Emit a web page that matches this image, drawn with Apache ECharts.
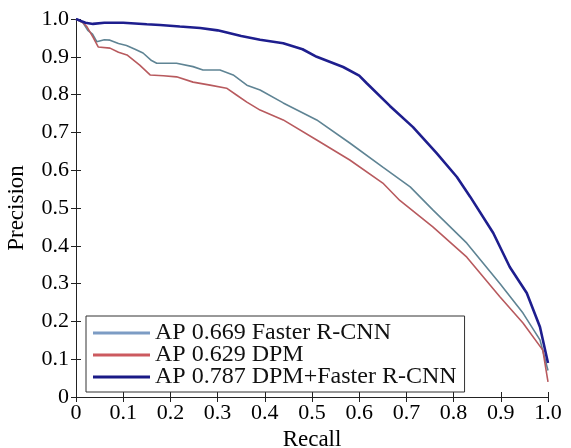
<!DOCTYPE html>
<html>
<head>
<meta charset="utf-8">
<script src="https://cdn.jsdelivr.net/npm/echarts@6/dist/echarts.min.js"></script>
<style>
  html, body { margin: 0; padding: 0; background: #fff; }
  #chart { width: 571px; height: 448px; }
</style>
</head>
<body>
<div id="chart"></div>
<script>
// tick labels
var tickLabels = ['0', '0.1', '0.2', '0.3', '0.4', '0.5', '0.6', '0.7', '0.8', '0.9', '1.0'];

// [recall, precision]
var fasterRcnn = [
  [0, 1.0], [0.015, 0.99], [0.025, 0.97], [0.035, 0.96], [0.044, 0.94], [0.06, 0.945],
  [0.072, 0.944], [0.09, 0.935], [0.107, 0.93], [0.125, 0.92], [0.142, 0.91], [0.16, 0.89],
  [0.171, 0.883], [0.213, 0.883], [0.248, 0.874], [0.269, 0.865], [0.305, 0.865], [0.333, 0.852],
  [0.362, 0.825], [0.39, 0.812], [0.439, 0.778], [0.51, 0.733], [0.58, 0.672], [0.65, 0.608],
  [0.708, 0.556], [0.756, 0.495], [0.828, 0.407], [0.898, 0.30], [0.947, 0.222], [0.983, 0.151],
  [1.0, 0.07]
];
var dpm = [
  [0, 1.0], [0.015, 0.99], [0.023, 0.98], [0.036, 0.952], [0.047, 0.926], [0.072, 0.923],
  [0.09, 0.912], [0.108, 0.905], [0.135, 0.878], [0.157, 0.852], [0.185, 0.85], [0.213, 0.847],
  [0.248, 0.833], [0.284, 0.825], [0.319, 0.817], [0.34, 0.799], [0.362, 0.78], [0.39, 0.759],
  [0.439, 0.733], [0.51, 0.68], [0.58, 0.627], [0.65, 0.566], [0.686, 0.52], [0.756, 0.45],
  [0.828, 0.37], [0.898, 0.265], [0.947, 0.196], [0.989, 0.124], [1.0, 0.04]
];
var dpmFaster = [
  [0, 1.0], [0.01, 0.995], [0.02, 0.99], [0.036, 0.987], [0.06, 0.99], [0.1, 0.99],
  [0.15, 0.986], [0.178, 0.984], [0.22, 0.98], [0.263, 0.976], [0.3, 0.97], [0.35, 0.955],
  [0.39, 0.945], [0.439, 0.936], [0.48, 0.92], [0.51, 0.90], [0.566, 0.873], [0.6, 0.85],
  [0.616, 0.83], [0.665, 0.77], [0.714, 0.714], [0.764, 0.645], [0.807, 0.582], [0.835, 0.53],
  [0.884, 0.434], [0.919, 0.344], [0.955, 0.275], [0.983, 0.185], [1.0, 0.09]
];

var chart = echarts.init(document.getElementById('chart'));
var fontFam = '"Liberation Serif", "DejaVu Serif", serif';
var lineCol = '#222';

function labelFmt(v) {
  return tickLabels[Math.round(v * 10)];
}

var option = {
  backgroundColor: '#fff',
  animation: false,
  textStyle: { fontFamily: fontFam, color: '#000' },
  grid: { left: 76, right: 23, top: 19, bottom: 51, show: false, containLabel: false, outerBoundsMode: 'none' },
  legend: {
    orient: 'vertical',
    left: 86,
    top: 316,
    padding: [5, 8, 3, 7],
    itemGap: -2,
    itemWidth: 57,
    itemHeight: 3,
    borderColor: '#333',
    borderWidth: 1,
    backgroundColor: '#fff',
    icon: 'rect',
    textStyle: { fontFamily: fontFam, fontSize: 24, color: '#111', lineHeight: 22 },
    data: [
      { name: 'AP 0.669 Faster R-CNN', itemStyle: { color: '#7c9cc4' } },
      { name: 'AP 0.629 DPM', itemStyle: { color: '#cc5a5f' } },
      { name: 'AP 0.787 DPM+Faster R-CNN', itemStyle: { color: '#1a1a86' } }
    ]
  },
  xAxis: [{
    type: 'value', min: 0, max: 1, interval: 0.1,
    name: 'Recall', nameLocation: 'middle', nameGap: 29,
    nameTextStyle: { fontFamily: fontFam, fontSize: 23, color: '#000' },
    axisLine: { lineStyle: { color: lineCol, width: 1 } },
    axisTick: { inside: true, length: 5, lineStyle: { color: lineCol } },
    axisLabel: { fontFamily: fontFam, fontSize: 22, color: '#000', margin: 5, formatter: labelFmt },
    splitLine: { show: false }
  }, {
    type: 'value', min: 0, max: 1, interval: 0.1, position: 'top',
    axisLine: { lineStyle: { color: lineCol, width: 1 } },
    axisTick: { inside: true, length: 5, lineStyle: { color: lineCol } },
    axisLabel: { show: false },
    splitLine: { show: false }
  }],
  yAxis: [{
    type: 'value', min: 0, max: 1, interval: 0.1,
    name: 'Precision', nameLocation: 'middle', nameGap: 48,
    nameTextStyle: { fontFamily: fontFam, fontSize: 23, color: '#000' },
    axisLine: { show: true, lineStyle: { color: lineCol, width: 1 } },
    axisTick: { show: true, inside: true, length: 5, lineStyle: { color: lineCol } },
    axisLabel: { fontFamily: fontFam, fontSize: 22, color: '#000', margin: 7, formatter: labelFmt },
    splitLine: { show: false }
  }, {
    type: 'value', min: 0, max: 1, interval: 0.1, position: 'right',
    axisLine: { show: true, lineStyle: { color: lineCol, width: 1 } },
    axisTick: { show: true, inside: true, length: 5, lineStyle: { color: lineCol } },
    axisLabel: { show: false },
    splitLine: { show: false }
  }],
  series: [{
    name: 'AP 0.669 Faster R-CNN',
    type: 'line', showSymbol: false,
    data: fasterRcnn,
    itemStyle: { color: '#7c9cc4' },
    lineStyle: { color: '#5f8494', width: 1.6 }
  }, {
    name: 'AP 0.629 DPM',
    type: 'line', showSymbol: false,
    data: dpm,
    itemStyle: { color: '#cc5a5f' },
    lineStyle: { color: '#b85a5e', width: 1.6 }
  }, {
    name: 'AP 0.787 DPM+Faster R-CNN',
    type: 'line', showSymbol: false,
    data: dpmFaster,
    itemStyle: { color: '#1a1a86' },
    lineStyle: { color: '#1e1e8e', width: 2.6 }
  }]
};
chart.setOption(option);
</script>
</body>
</html>
